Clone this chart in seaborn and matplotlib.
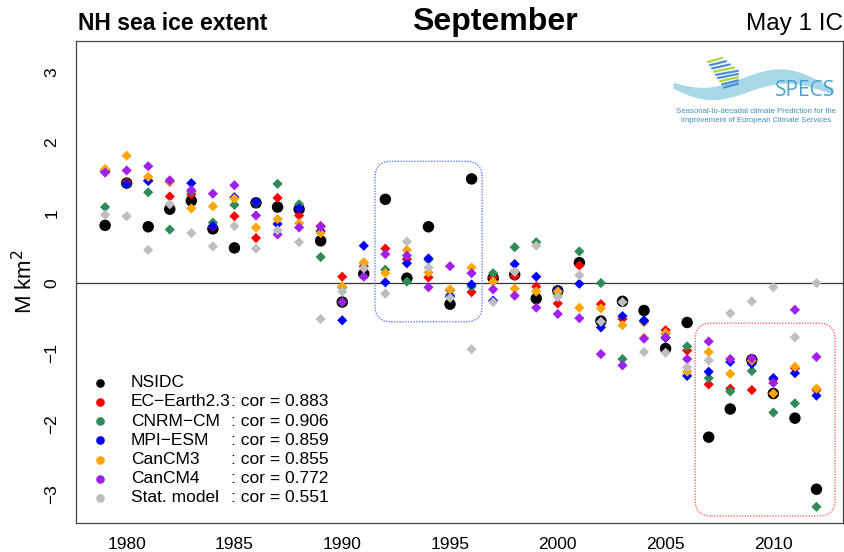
import numpy as np
import pandas as pd
import matplotlib
matplotlib.use("Agg")
import matplotlib.pyplot as plt
import seaborn as sns
from matplotlib.patches import FancyBboxPatch

years = list(range(1979, 2013))

nsidc = [0.82, 1.42, 0.80, 1.05, 1.17, 0.77, 0.50, 1.14, 1.08, 1.05, 0.60, -0.27, 0.13, 1.19,
         0.07, 0.80, -0.30, 1.48, 0.07, 0.12, -0.22, -0.11, 0.29, -0.54, -0.26, -0.39, -0.93,
         -0.56, -2.19, -1.79, -1.09, -1.57, -1.92, -2.93]
ec_earth = [1.60, 1.43, 1.46, 1.23, 1.26, 0.80, 0.95, 0.64, 1.21, 0.96, 0.81, 0.09, 0.24, 0.49,
            0.34, 0.08, -0.10, -0.13, 0.08, 0.10, -0.05, -0.29, 0.25, -0.30, -0.51, -0.55, -0.67,
            -0.96, -1.44, -1.50, -1.52, -1.37, -1.21, -1.52]
cnrm = [1.08, 1.40, 1.29, 0.76, 1.30, 0.86, 1.11, 1.14, 1.41, 1.12, 0.37, -0.06, 0.29, 0.19,
        0.02, 0.33, -0.17, -0.05, 0.14, 0.51, 0.58, -0.16, 0.45, 0.00, -1.08, -0.54, -0.72,
        -0.90, -1.35, -1.54, -1.25, -1.84, -1.71, -3.18]
mpi = [1.58, 1.41, 1.45, 1.44, 1.42, 0.81, 1.22, 1.15, 0.84, 1.06, 0.74, -0.53, 0.53, 0.01,
       0.28, 0.35, -0.19, -0.02, -0.25, 0.27, 0.09, -0.10, -0.01, -0.63, -0.47, -0.53, -0.78,
       -1.32, -1.26, -1.12, -1.15, -1.35, -1.28, -1.60]
cancm3 = [1.62, 1.81, 1.51, 1.44, 1.06, 1.09, 1.20, 0.79, 0.91, 0.85, 0.71, -0.05, 0.29, 0.14,
          0.47, 0.15, -0.09, 0.22, 0.02, -0.08, -0.12, -0.12, -0.35, -0.36, -0.60, -0.78, -0.71,
          -1.26, -0.98, -1.29, -1.10, -1.57, -1.19, -1.50]
cancm4 = [1.57, 1.60, 1.66, 1.46, 1.32, 1.27, 1.39, 0.96, 0.69, 0.79, 0.80, -0.27, 0.09, 0.41,
          0.39, -0.06, 0.24, 0.14, -0.09, -0.18, -0.35, -0.44, -0.50, -1.01, -1.17, -0.79, -0.77,
          -1.08, -0.83, -1.08, -1.07, -1.42, -0.38, -1.05]
stat_model = [0.97, 0.95, 0.47, 1.12, 0.71, 0.52, 0.81, 0.49, 0.75, 0.58, -0.51, -0.12, 0.21, -0.15,
              0.59, 0.22, -0.21, -0.94, -0.27, 0.16, 0.53, -0.20, 0.11, -0.55, -0.27, -0.98, -0.99,
              -1.20, -1.10, -0.43, -0.26, -0.06, -0.77, 0.00]

series_names = ["NSIDC", "EC\u2212Earth2.3", "CNRM\u2212CM", "MPI\u2212ESM", "CanCM3", "CanCM4", "Stat. model"]
series_values = [nsidc, ec_earth, cnrm, mpi, cancm3, cancm4, stat_model]
series_colors = ["#000000", "#ff0000", "#2e8b57", "#0000ff", "#ffa500", "#a020f0", "#bebebe"]
cor_labels = ["", ": cor = 0.883", ": cor = 0.906", ": cor = 0.859", ": cor = 0.855", ": cor = 0.772", ": cor = 0.551"]

x_ticks = [1980, 1985, 1990, 1995, 2000, 2005, 2010]
y_ticks = [-3, -2, -1, 0, 1, 2, 3]

sns.set_style("white")
plt.rcParams["font.family"] = ["Liberation Sans", "DejaVu Sans"]
plt.rcParams["text.color"] = "black"
plt.rcParams["axes.labelcolor"] = "black"

W, H = 845, 552
fig = plt.figure(figsize=(W / 100, H / 100), dpi=100)
ax = fig.add_axes([76 / W, 1 - 523 / H, (843 - 76) / W, (523 - 41) / H])

for name, vals, col in zip(series_names, series_values, series_colors):
    d = pd.DataFrame({"year": years, "value": vals})
    if name == "NSIDC":
        sns.scatterplot(data=d, x="year", y="value", ax=ax, color=col, marker="o", s=68,
                        linewidth=0, edgecolor="none", zorder=3, legend=False)
    else:
        sns.scatterplot(data=d, x="year", y="value", ax=ax, color=col, marker="D", s=27,
                        linewidth=0, edgecolor="none", zorder=4, legend=False)

ax.axhline(0, color="#333333", lw=0.9, zorder=1)

ax.set_xlim(1977.65, 2013.23)
ax.set_ylim(-3.41, 3.44)
ax.set_xticks(x_ticks)
ax.set_xticklabels([str(t) for t in x_ticks], fontsize=12.5)
ax.set_yticks(y_ticks)
ax.set_yticklabels([str(t).replace("-", "\u2212") for t in y_ticks], fontsize=12.5, rotation=90, va="center")
ax.tick_params(axis="both", direction="out", length=7, width=0.9, color="#666666",
               labelcolor="black", pad=3)
ax.tick_params(axis="y", pad=5)
for s in ax.spines.values():
    s.set_color("#444444")
    s.set_linewidth(0.9)
ax.set_xlabel("")
ax.set_ylabel("M km$^2$", fontsize=16, labelpad=5)

# highlight boxes (rounded, dotted)
def rbox(x0, x1, y0, y1, col):
    p = FancyBboxPatch((x0, y0), x1 - x0, y1 - y0,
                       boxstyle="round,pad=0,rounding_size=0.75", mutation_aspect=0.306,
                       fill=False, edgecolor=col, lw=1.0, linestyle=(0, (1, 1)), zorder=2)
    ax.add_patch(p)

rbox(1991.52, 1996.49, -0.55, 1.73, "#6b7dff")
rbox(2006.37, 2012.86, -3.31, -0.57, "#ff6b6b")

# legend
to_ax = lambda px, py: ((px - 76) / (843 - 76), (523 - py) / (523 - 41))
row_y = [382.7, 402.0, 421.2, 440.4, 459.6, 478.8, 498.0]
for name, col, cor, yy in zip(series_names, series_colors, cor_labels, row_y):
    mx, my = to_ax(100, yy)
    ax.plot([mx], [my], marker="o", ms=6.2, color=col, mec="none", transform=ax.transAxes, zorder=5)
    tx, _ = to_ax(131, yy)
    ax.text(tx, my, name, transform=ax.transAxes, fontsize=12.5, va="center", ha="left")
    if cor:
        cx, _ = to_ax(231, yy)
        ax.text(cx, my, cor, transform=ax.transAxes, fontsize=12.5, va="center", ha="left")

# titles
fig.text(78 / W, 1 - 24 / H, "NH sea ice extent", fontsize=16.5, fontweight="bold", ha="left", va="center")
fig.text(495 / W, 1 - 22 / H, "September", fontsize=23, fontweight="bold", ha="center", va="center")
fig.text(843 / W, 1 - 24 / H, "May 1 IC", fontsize=17.5, ha="right", va="center")

# SPECS logo approximation
lax = fig.add_axes([668 / W, 1 - 130 / H, (840 - 668) / W, (130 - 48) / H])
lax.set_xlim(0, 172)
lax.set_ylim(82, 0)
lax.axis("off")
t = np.linspace(0, 1, 200)
xw = 5 + 160 * t
yc = 34 + 10 * np.sin(2 * np.pi * (t * 1.0 + 0.05)) + 6 * t
thick = 3 + 5 * np.sin(np.pi * t)
lax.fill_between(xw, yc - thick, yc + thick, color="#9fd3e6", alpha=0.9, lw=0)
for i in range(9):
    yy = 14 + i * 3.2
    x0 = 40 + i * 2
    lax.plot([x0, x0 + 22 - abs(i - 4) * 2], [yy, yy - 4], color="#4a90d9" if i % 3 else "#b5d334", lw=1.6)
lax.text(137, 43, "SPECS", fontsize=15, color="#4aa3cf", ha="center", va="center", family="Open Sans")
lax.text(88, 64, "Seasonal-to-decadal climate Prediction for the", fontsize=5.6, color="#3d8fbf", ha="center", va="center")
lax.text(88, 73, "improvement of European Climate Services", fontsize=5.6, color="#3d8fbf", ha="center", va="center")

fig.savefig("out.png", dpi=100)
